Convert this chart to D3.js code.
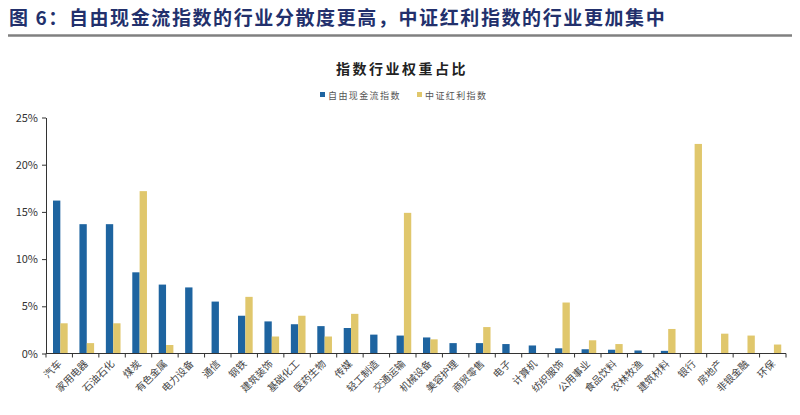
<!DOCTYPE html>
<html>
<head>
<meta charset="UTF-8">
<style>
  body { margin: 0; background: #fff; }
  svg text { font-family: "Noto Sans CJK SC", "Liberation Sans", sans-serif; }
</style>
</head>
<body>
<div id="chart"></div>
<script src="https://d3js.org/d3.v7.min.js"></script>
<script>
const width = 800, height = 415;

// industries on the x axis
const industries = ["汽车", "家用电器", "石油石化", "煤炭", "有色金属", "电力设备", "通信", "钢铁",
  "建筑装饰", "基础化工", "医药生物", "传媒", "轻工制造", "交通运输", "机械设备", "美容护理",
  "商贸零售", "电子", "计算机", "纺织服饰", "公用事业", "食品饮料", "农林牧渔", "建筑材料",
  "银行", "房地产", "非银金融", "环保"];

// weights in %
const fcfWeights = [16.2, 13.7, 13.7, 8.6, 7.3, 7.0, 5.5, 4.0,
  3.4, 3.1, 2.9, 2.7, 2.0, 1.9, 1.7, 1.1,
  1.1, 1.0, 0.85, 0.55, 0.45, 0.4, 0.32, 0.28,
  0, 0, 0, 0];
const dividendWeights = [3.2, 1.1, 3.2, 17.2, 0.9, 0, 0, 6.0,
  1.8, 4.0, 1.8, 4.2, 0, 14.9, 1.5, 0,
  2.8, 0, 0, 5.4, 1.4, 1.0, 0, 2.6,
  22.2, 2.1, 1.9, 0.95];

const seriesNames = ["自由现金流指数", "中证红利指数"];
const seriesColors = ["#1e64a0", "#e0c76c"];
const yTicks = [0, 5, 10, 15, 20, 25];

const svg = d3.select("#chart").append("svg")
  .attr("width", width)
  .attr("height", height);

// header
svg.append("text")
  .attr("x", 9).attr("y", 25)
  .attr("fill", "#22306c")
  .attr("font-size", 19)
  .attr("font-weight", "bold")
  .attr("letter-spacing", 1.6)
  .text("图 6：自由现金流指数的行业分散度更高，中证红利指数的行业更加集中");
svg.append("line")
  .attr("x1", 8).attr("x2", 792)
  .attr("y1", 35.5).attr("y2", 35.5)
  .attr("stroke", "#808080")
  .attr("stroke-width", 2.5);

// chart title
svg.append("text")
  .attr("x", 402).attr("y", 74)
  .attr("text-anchor", "middle")
  .attr("font-size", 14)
  .attr("font-weight", "bold")
  .attr("letter-spacing", 2.5)
  .attr("fill", "#222")
  .text("指数行业权重占比");

// legend
const legendX = [320, 417];
const legend = svg.append("g");
seriesNames.forEach((name, i) => {
  legend.append("rect")
    .attr("x", legendX[i]).attr("y", 92)
    .attr("width", 5).attr("height", 5)
    .attr("fill", seriesColors[i]);
  legend.append("text")
    .attr("x", legendX[i] + 8).attr("y", 98.5)
    .attr("font-size", 9)
    .attr("letter-spacing", 1.4)
    .attr("fill", "#555")
    .text(name);
});

// scales
const x0 = d3.scaleBand()
  .domain(industries)
  .range([46, 786])
  .padding(0);
const bw = x0.bandwidth();
const x1 = d3.scaleBand()
  .domain(seriesNames)
  .range([bw * 0.265, bw * 0.82]);

const y = d3.scaleLinear()
  .domain([0, 25])
  .range([353.5, 117.5]);

// bars
const rows = industries.map((name, i) => ({
  name,
  values: [fcfWeights[i], dividendWeights[i]]
}));

svg.append("g")
  .selectAll("g")
  .data(rows)
  .join("g")
    .attr("transform", d => `translate(${x0(d.name)},0)`)
  .selectAll("rect")
  .data(d => d.values.map((v, i) => ({ key: seriesNames[i], v, i })))
  .join("rect")
    .attr("x", d => x1(d.key))
    .attr("width", x1.bandwidth())
    .attr("y", d => y(d.v))
    .attr("height", d => y(0) - y(d.v))
    .attr("fill", d => seriesColors[d.i]);

// y axis
const yAxis = svg.append("g")
  .attr("transform", "translate(46,0)")
  .call(d3.axisLeft(y).tickValues(yTicks).tickFormat(d => d + "%").tickSize(4).tickSizeOuter(0));
yAxis.select(".domain").attr("stroke", "#333");
yAxis.selectAll(".tick line").attr("stroke", "#333");
yAxis.selectAll(".tick text")
  .attr("x", -8)
  .attr("font-family", "'Liberation Sans', Arial, sans-serif")
  .attr("font-size", 11)
  .attr("fill", "#333");

// x axis: ticks between categories
const xAxis = svg.append("g")
  .attr("transform", `translate(0,${y(0)})`);
xAxis.append("line")
  .attr("x1", 46).attr("x2", 786)
  .attr("stroke", "#333");
xAxis.selectAll(".sep")
  .data(d3.range(industries.length + 1))
  .join("line")
    .attr("class", "sep")
    .attr("x1", i => 46 + i * bw).attr("x2", i => 46 + i * bw)
    .attr("y1", 0).attr("y2", 4)
    .attr("stroke", "#333");
xAxis.selectAll(".lbl")
  .data(industries)
  .join("text")
    .attr("class", "lbl")
    .attr("text-anchor", "end")
    .attr("font-size", 10)
    .attr("fill", "#444")
    .attr("transform", d => `translate(${x0(d) + bw / 2 + 3},${11}) rotate(-45)`)
    .text(d => d);
</script>
</body>
</html>
